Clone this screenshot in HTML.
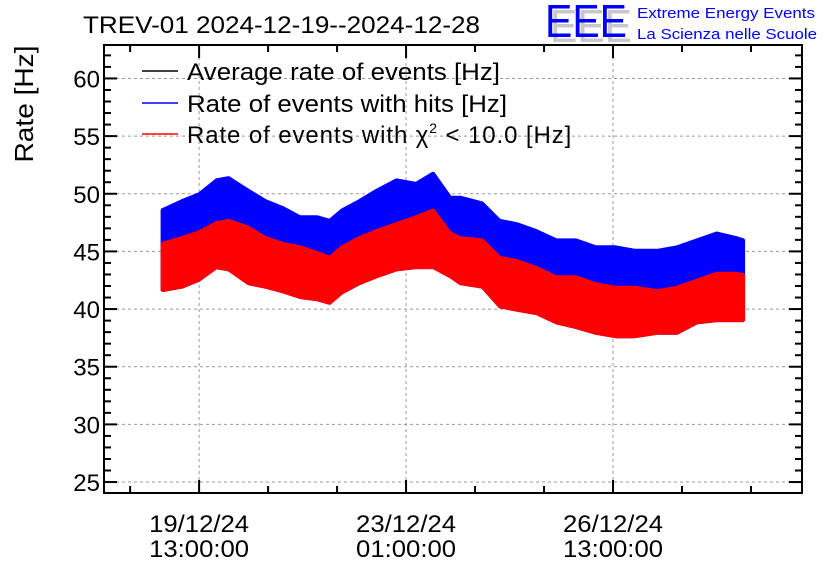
<!DOCTYPE html>
<html><head><meta charset="utf-8"><style>
body{margin:0;background:#fff;}
svg text{font-family:"Liberation Sans",sans-serif;}
</style></head><body>
<svg id="chart" width="836" height="572" viewBox="0 0 836 572" xmlns="http://www.w3.org/2000/svg">
<g id="grid"></g>
<g id="series"></g>
<g id="axes"></g>
<text x="83" y="33" font-size="24" textLength="397" lengthAdjust="spacingAndGlyphs">TREV-01 2024-12-19--2024-12-28</text>
<g>
<text x="550" y="42" font-size="46" fill="#c8c8c8" textLength="82" lengthAdjust="spacingAndGlyphs">EEE</text>
<text x="545" y="37" font-size="46" fill="#0000ff" textLength="82" lengthAdjust="spacingAndGlyphs">EEE</text>
<text x="637" y="18" font-size="15" fill="#0000ff" textLength="178" lengthAdjust="spacingAndGlyphs">Extreme Energy Events</text>
<text x="637" y="39" font-size="15" fill="#0000ff" textLength="180" lengthAdjust="spacingAndGlyphs">La Scienza nelle Scuole</text>
</g>
<text transform="translate(33,104) rotate(-90)" text-anchor="middle" font-size="26" textLength="117" lengthAdjust="spacingAndGlyphs">Rate [Hz]</text>
<g>
<g><line x1="142" y1="71" x2="178" y2="71" stroke="#000" stroke-width="1.5"/><text x="187" y="80" font-size="24" textLength="313" lengthAdjust="spacingAndGlyphs">Average rate of events [Hz]</text></g>
<g><line x1="142" y1="103" x2="178" y2="103" stroke="#0000ff" stroke-width="1.5"/><text x="187" y="112" font-size="24" textLength="320" lengthAdjust="spacingAndGlyphs">Rate of events with hits [Hz]</text></g>
<g><line x1="142" y1="134" x2="178" y2="134" stroke="#ff0000" stroke-width="1.5"/><text x="187" y="143" font-size="24" letter-spacing="0.9">Rate of events with χ<tspan font-size="14" dy="-10">2</tspan><tspan dy="10"> &lt; 10.0 [Hz]</tspan></text></g>
</g>
</svg>
<script>
// hours relative to 19/12/24 13:00
const hours = [-15,-7,0,7,12,20,27,34,41,48,53,58,65,72,80,88,95,102,106,115,122,129,137,145,153,161,169,177,186,194,202,210,218,221];
const blueMax = [48.6,49.4,50.0,51.2,51.4,50.3,49.4,48.8,48.0,48.0,47.7,48.6,49.4,50.3,51.2,50.9,51.8,49.7,49.7,49.2,47.7,47.4,46.8,46.0,46.0,45.4,45.4,45.1,45.1,45.4,46.0,46.6,46.2,46.0];
const redMax = [45.7,46.2,46.7,47.5,47.7,47.1,46.2,45.7,45.4,44.9,44.5,45.4,46.2,46.8,47.4,48.0,48.6,46.6,46.2,46.0,44.5,44.2,43.6,42.8,42.8,42.2,41.9,41.9,41.6,41.9,42.5,43.1,43.1,43.0];
const redMin = [41.6,41.9,42.5,43.6,43.4,42.2,41.9,41.5,41.0,40.8,40.5,41.4,42.2,42.8,43.4,43.6,43.6,42.8,42.2,41.9,40.2,39.9,39.6,38.8,38.4,37.9,37.6,37.6,37.9,37.9,38.8,39.0,39.0,39.0];
const yTicks = [25,30,35,40,45,50,55,60];
const xTickHours = [0,84,168];
const xTickLabels = [["19/12/24","13:00:00"],["23/12/24","01:00:00"],["26/12/24","13:00:00"]];

const L=104,R=802,T=45,B=493;
const yMin=24.05,yMax=62.9,hMin=-38.6,hMax=244.7;
const sy=v=>B-(v-yMin)/(yMax-yMin)*(B-T);
const sx=h=>L+(h-hMin)/(hMax-hMin)*(R-L);
const NS="http://www.w3.org/2000/svg";
function mk(tag,parent,attrs){const e=document.createElementNS(NS,tag);for(const k in attrs)e.setAttribute(k,attrs[k]);parent.appendChild(e);return e;}
const grid=document.getElementById('grid'),series=document.getElementById('series'),axes=document.getElementById('axes');

yTicks.forEach(v=>{
  const g=mk('line',grid,{x1:L,x2:R,y1:sy(v),y2:sy(v),stroke:'#999','stroke-dasharray':'3,3','stroke-width':1});
  
  
});
xTickHours.forEach(h=>{
  const g=mk('line',grid,{x1:sx(h),x2:sx(h),y1:T,y2:B,stroke:'#999','stroke-dasharray':'3,3','stroke-width':1});
  
  
});

function band(upper,lower,color,name){
  let d='M'+hours.map((h,i)=>sx(h).toFixed(1)+','+sy(upper[i]).toFixed(1)).join(' L');
  for(let i=hours.length-1;i>=0;i--) d+=' L'+sx(hours[i]).toFixed(1)+','+sy(lower[i]).toFixed(1);
  const p=mk('path',series,{d:d+'Z',fill:color,stroke:color,'stroke-width':3,'stroke-linejoin':'bevel'});
  
  
}
band(blueMax,redMin,'#0000ff','hits-rate-band');
band(redMax,redMin,'#ff0000','chi2-rate-band');

const fr=mk('rect',axes,{x:L,y:T,width:R-L,height:B-T,fill:'none',stroke:'#000','stroke-width':2});


for(let v=25;v<=62;v++){
  const len=(v%5===0)?13:7;
  mk('line',axes,{x1:L,x2:L+len,y1:sy(v),y2:sy(v),stroke:'#000','stroke-width':2});
  mk('line',axes,{x1:R-len,x2:R,y1:sy(v),y2:sy(v),stroke:'#000','stroke-width':2});
}
yTicks.forEach(v=>{
  const t=mk('text',axes,{x:100,y:sy(v)+9,'text-anchor':'end','font-size':24});
  t.textContent=v;
  
  
});
for(let k=-2;k<=9;k++){
  const h=k*28;if(sx(h)<=L+2||sx(h)>=R-2)continue;
  const len=(k%3===0)?13:7;
  mk('line',axes,{x1:sx(h),x2:sx(h),y1:B,y2:B-len,stroke:'#000','stroke-width':2});
  mk('line',axes,{x1:sx(h),x2:sx(h),y1:T,y2:T+len,stroke:'#000','stroke-width':2});
}
xTickHours.forEach((h,i)=>{
  const t=mk('text',axes,{x:sx(h),y:532,'text-anchor':'middle','font-size':24,textLength:100,lengthAdjust:'spacingAndGlyphs'});
  t.textContent=xTickLabels[i][0];
  
  
  const t2=mk('text',axes,{x:sx(h),y:557,'text-anchor':'middle','font-size':24,textLength:100,lengthAdjust:'spacingAndGlyphs'});
  t2.textContent=xTickLabels[i][1];
  
  
});
</script>
</body></html>
